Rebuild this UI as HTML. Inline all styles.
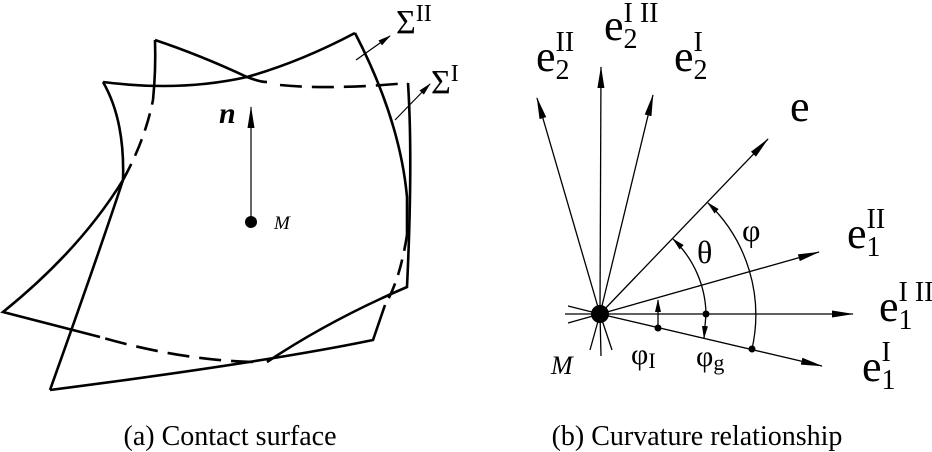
<!DOCTYPE html>
<html><head><meta charset="utf-8"><style>
html,body{margin:0;padding:0;background:#fff;}
svg{display:block;}
text{font-family:"Liberation Serif",serif;fill:#000;}
</style></head><body>
<svg width="932" height="452" viewBox="0 0 932 452" xmlns="http://www.w3.org/2000/svg">
<defs>
<marker id="ah" markerWidth="22" markerHeight="9" refX="21" refY="4.5" orient="auto" markerUnits="userSpaceOnUse">
<path d="M0,1 L22,4.5 L0,8 Z" fill="#000"/></marker>
<marker id="as" markerWidth="13" markerHeight="7" refX="12" refY="3.5" orient="auto" markerUnits="userSpaceOnUse">
<path d="M0,0.5 L13,3.5 L0,6.5 Z" fill="#000"/></marker>
</defs>
<g fill="none" stroke="#000" stroke-width="2.6" stroke-linejoin="miter">
<path d="M103,82 Q180,92 247,77 Q300,62 355,33"/>
<path d="M355,33 Q400,120 407,197 L407,235"/>
<path d="M407,235 Q400,280 385,305" stroke-dasharray="16,9"/>
<path d="M385,305 L373,340 Q267,362 50,390"/>
<path d="M50,390 Q100,250 123,180 Q125,120 103,82"/>
<path d="M155,40 Q200,55 247,77 Q260,82 267,82"/>
<path d="M280,85 Q330,90 408,83" stroke-dasharray="22,10"/>
<path d="M408,83 Q413,160 407,287 Q330,320 267,362"/>
<path d="M253,362 Q180,360 100,337" stroke-dasharray="22,10"/>
<path d="M100,337 L3,312 Q80,250 123,180"/>
<path d="M123,180 Q145,140 153,100" stroke-dasharray="18,9"/>
<path d="M153,100 Q156,70 155,40"/>
</g>
<g stroke="#000" stroke-width="1.2" fill="none">
<line x1="356" y1="60" x2="390" y2="36" marker-end="url(#as)"/>
<line x1="395" y1="120" x2="430" y2="84" marker-end="url(#as)"/>
<line x1="251" y1="222" x2="251" y2="107" marker-end="url(#ah)"/>
</g>
<circle cx="251" cy="222" r="6" fill="#000"/>
<text x="219" y="123" font-size="30" font-weight="bold" font-style="italic">n</text>
<text x="274" y="229" font-size="19" font-style="italic">M</text>
<text x="396" y="33" font-size="34">Σ<tspan font-size="24" dy="-12">II</tspan></text>
<text x="431" y="93" font-size="34">Σ<tspan font-size="24" dy="-12">I</tspan></text>

<g stroke="#000" stroke-width="1.3" fill="none">
<line x1="600" y1="314" x2="853" y2="314" marker-end="url(#ah)"/>
<line x1="600" y1="314" x2="819" y2="252" marker-end="url(#ah)"/>
<line x1="600" y1="314" x2="822" y2="366" marker-end="url(#ah)"/>
<line x1="600" y1="314" x2="768" y2="139" marker-end="url(#ah)"/>
<line x1="600" y1="314" x2="537" y2="98" marker-end="url(#ah)"/>
<line x1="600" y1="314" x2="601" y2="67" marker-end="url(#ah)"/>
<line x1="600" y1="314" x2="653" y2="95" marker-end="url(#ah)"/>
<line x1="600" y1="314" x2="565" y2="314"/>
<line x1="600" y1="314" x2="568" y2="323"/>
<line x1="600" y1="314" x2="568" y2="306"/>
<line x1="600" y1="314" x2="601" y2="356"/>
<line x1="600" y1="314" x2="612" y2="350"/>
<line x1="600" y1="314" x2="590" y2="350"/>
<path d="M706,314 A106,106 0 0 0 673,239" marker-end="url(#as)"/>
<path d="M706,314 L704,338" marker-end="url(#as)"/>
<path d="M752,349 A155,155 0 0 0 708,203" marker-end="url(#as)"/>
<path d="M658,328 L658,300" marker-end="url(#as)"/>
</g>
<circle cx="600" cy="314" r="9" fill="#000"/>
<circle cx="706" cy="314" r="3.5" fill="#000"/>
<circle cx="752" cy="349" r="3.5" fill="#000"/>
<circle cx="658" cy="328" r="3.5" fill="#000"/>

<text x="536" y="71" font-size="44">e<tspan font-size="28" dy="8">2</tspan><tspan font-size="28" dx="-14" dy="-28">II</tspan></text>
<text x="604" y="40" font-size="44">e<tspan font-size="28" dy="8">2</tspan><tspan font-size="28" dx="-14" dy="-26">I II</tspan></text>
<text x="674" y="71" font-size="44">e<tspan font-size="28" dy="8">2</tspan><tspan font-size="28" dx="-14" dy="-28">I</tspan></text>
<text x="790" y="121" font-size="44">e</text>
<text x="847" y="248" font-size="44">e<tspan font-size="28" dy="8">1</tspan><tspan font-size="28" dx="-14" dy="-28">II</tspan></text>
<text x="879" y="321" font-size="44">e<tspan font-size="28" dy="8">1</tspan><tspan font-size="28" dx="-14" dy="-28">I II</tspan></text>
<text x="862" y="381" font-size="44">e<tspan font-size="28" dy="8">1</tspan><tspan font-size="28" dx="-14" dy="-28">I</tspan></text>
<text x="697" y="263" font-size="32">θ</text>
<text x="742" y="241" font-size="32">φ</text>
<text x="631" y="364" font-size="30">φ<tspan font-size="22" dy="4">I</tspan></text>
<text x="696" y="366" font-size="30">φ<tspan font-size="22" dy="4">g</tspan></text>
<text x="551" y="374" font-size="26" font-style="italic">M</text>

<text x="230" y="445" font-size="28" text-anchor="middle">(a) Contact surface</text>
<text x="697" y="445" font-size="28" text-anchor="middle">(b) Curvature relationship</text>
</svg>
</body></html>
